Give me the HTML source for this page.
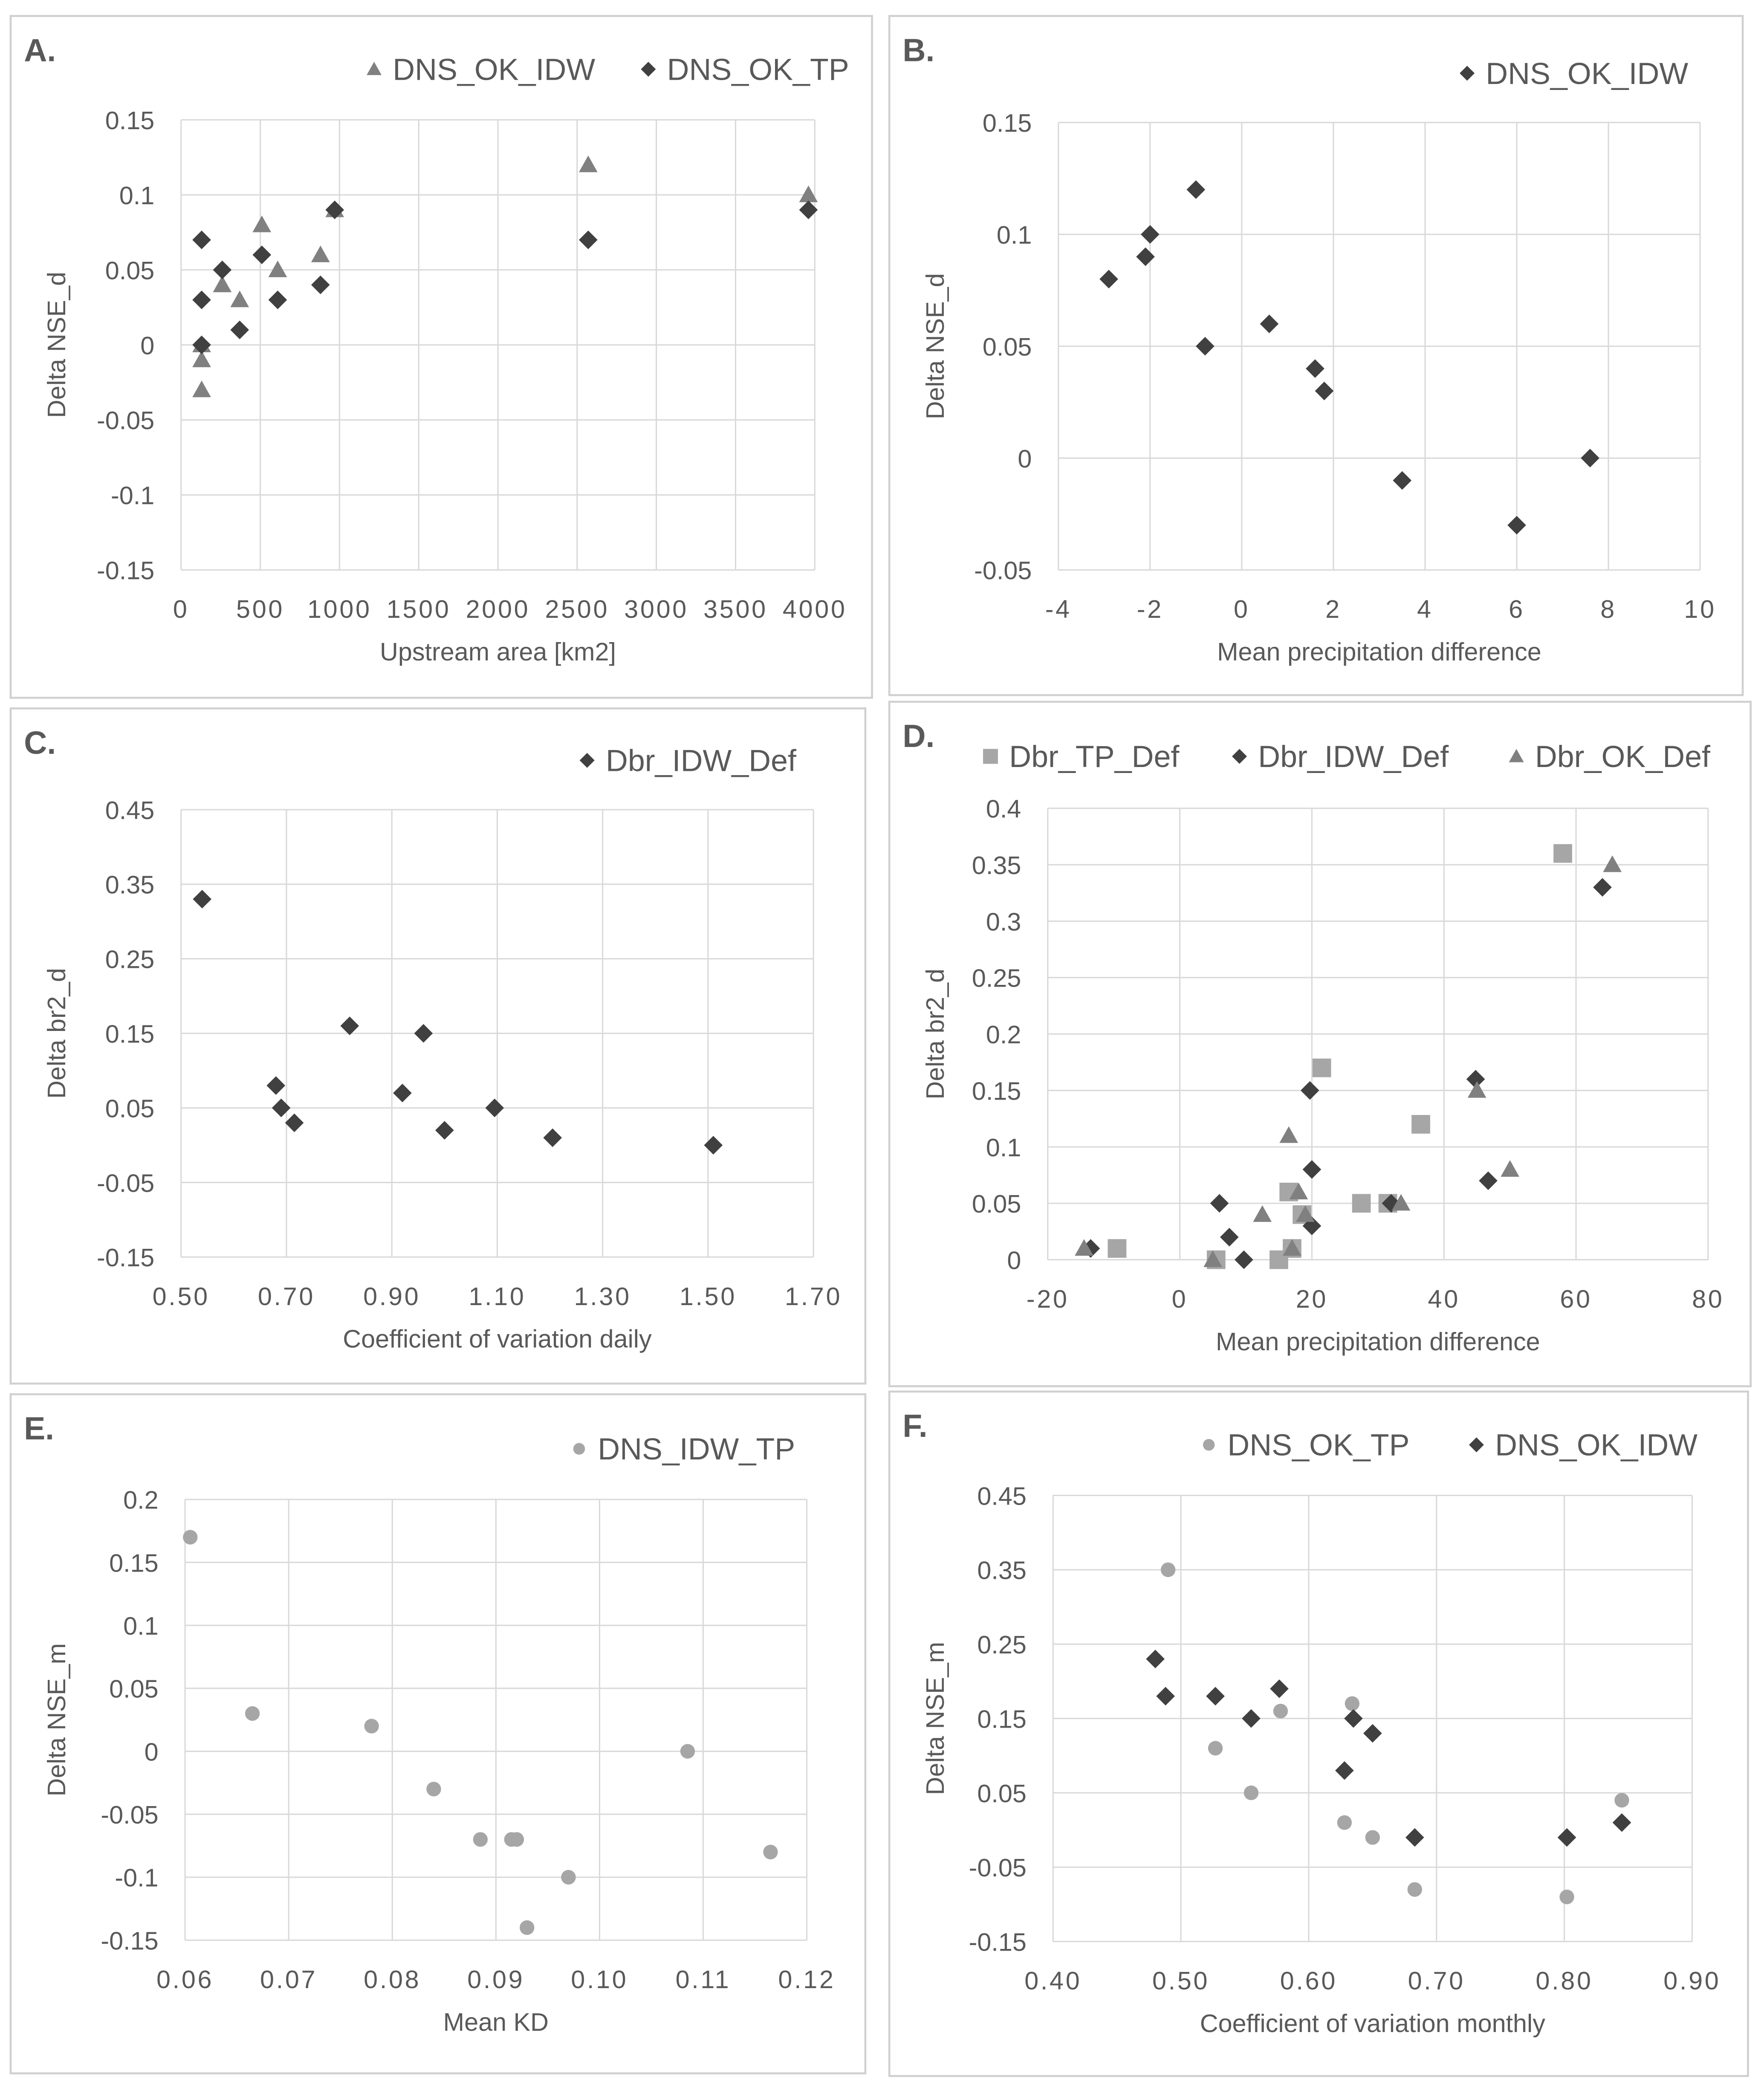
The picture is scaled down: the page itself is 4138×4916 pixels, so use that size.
<!DOCTYPE html>
<html><head><meta charset="utf-8"><style>
html,body{margin:0;padding:0;background:#fff}
svg{display:block}
text{font-family:"Liberation Sans",sans-serif;fill:#595959}
</style></head><body>
<svg id="fig" width="4138" height="4916" viewBox="0 0 1325 1574" preserveAspectRatio="none" xmlns="http://www.w3.org/2000/svg"></svg>
<script>
// Panel A data
const aXTicks=["0","500","1000","1500","2000","2500","3000","3500","4000"];
const aYTicks=["0.15","0.1","0.05","0","-0.05","-0.1","-0.15"];
const aIdwX=[130,130,130,260,370,510,610,880,970,2570,3960];
const aIdwY=[-0.03,-0.01,0,0.04,0.03,0.08,0.05,0.06,0.09,0.12,0.10];
const aTpX=[130,130,130,260,370,510,610,880,970,2570,3960];
const aTpY=[0.07,0.03,0,0.05,0.01,0.06,0.03,0.04,0.09,0.07,0.09];
// Panel B
const bXTicks=["-4","-2","0","2","4","6","8","10"];
const bYTicks=["0.15","0.1","0.05","0","-0.05"];
const bX=[-2.9,-2.1,-2.0,-1.0,-0.8,0.6,1.6,1.8,3.5,6.0,7.6];
const bY=[0.08,0.09,0.10,0.12,0.05,0.06,0.04,0.03,-0.01,-0.03,0];
// Panel C
const cXTicks=["0.50","0.70","0.90","1.10","1.30","1.50","1.70"];
const cYTicks=["0.45","0.35","0.25","0.15","0.05","-0.05","-0.15"];
const cX=[0.54,0.68,0.69,0.715,0.82,0.92,0.96,1.0,1.095,1.205,1.51];
const cY=[0.33,0.08,0.05,0.03,0.16,0.07,0.15,0.02,0.05,0.01,0];
// Panel D
const dXTicks=["-20","0","20","40","60","80"];
const dYTicks=["0.4","0.35","0.3","0.25","0.2","0.15","0.1","0.05","0"];
const dTpX=[-9.5,5.5,15,16.5,17,18.5,21.5,27.5,31.5,36.5,58];
const dTpY=[0.01,0,0,0.06,0.01,0.04,0.17,0.05,0.05,0.12,0.36];
const dIdwX=[-13.5,6,7.5,9.7,19.7,20,20,32,44.8,46.7,64];
const dIdwY=[0.01,0.05,0.02,0,0.15,0.08,0.03,0.05,0.16,0.07,0.33];
const dOkX=[-14.5,5,16.5,17,12.5,18,19,33.5,45,50,65.5];
const dOkY=[0.01,0,0.11,0.01,0.04,0.06,0.04,0.05,0.15,0.08,0.35];
// Panel E
const eXTicks=["0.06","0.07","0.08","0.09","0.10","0.11","0.12"];
const eYTicks=["0.2","0.15","0.1","0.05","0","-0.05","-0.1","-0.15"];
const eX=[0.0605,0.0665,0.078,0.084,0.0885,0.0915,0.092,0.093,0.097,0.1085,0.1165];
const eY=[0.17,0.03,0.02,-0.03,-0.07,-0.07,-0.07,-0.14,-0.10,0,-0.08];
// Panel F
const fXTicks=["0.40","0.50","0.60","0.70","0.80","0.90"];
const fYTicks=["0.45","0.35","0.25","0.15","0.05","-0.05","-0.15"];
const fTpX=[0.49,0.527,0.555,0.578,0.628,0.634,0.65,0.683,0.802,0.845];
const fTpY=[0.35,0.11,0.05,0.16,0.01,0.17,-0.01,-0.08,-0.09,0.04];
const fIdwX=[0.48,0.488,0.527,0.555,0.577,0.628,0.635,0.65,0.683,0.802,0.845];
const fIdwY=[0.23,0.18,0.18,0.15,0.19,0.08,0.15,0.13,-0.01,-0.01,0.01];

const NS="http://www.w3.org/2000/svg";
const svg=document.getElementById('fig');
function el(tag,attrs,parent,txt){const e=document.createElementNS(NS,tag);for(const k in attrs)e.setAttribute(k,attrs[k]);if(txt!==undefined)e.textContent=txt;(parent||svg).appendChild(e);return e;}
const DARK="#404040",MID="#808080",LIGHT="#a6a6a6";
function marker(g,shape,x,y,color){
  let m;
  if(shape==='diamond'){m=el('polygon',{points:`${x},${y-7} ${x+7},${y} ${x},${y+7} ${x-7},${y}`,fill:color},g);}
  else if(shape==='triangle'){m=el('polygon',{points:`${x},${y-7} ${x+7},${y+5.5} ${x-7},${y+5.5}`,fill:color},g);}
  else if(shape==='square'){m=el('rect',{x:x-7,y:y-7,width:14,height:14,fill:color},g);}
  else {m=el('circle',{cx:x,cy:y,r:5.5,fill:color},g);}
  return m;
}
function panel(p){
  const g=el('g',{});
  
  
  const box=el('rect',{x:p.box[0],y:p.box[1],width:p.box[2]-p.box[0],height:p.box[3]-p.box[1],fill:'#fff',stroke:'#d0d0d0','stroke-width':1.5},g);
  
  const lab=el('text',{x:p.box[0]+10,y:p.box[1]+34,'font-size':24,'font-weight':'bold'},g,p.id.toUpperCase()+'.');
  
  const [x0,x1,y0,y1]=p.plot;
  const xmin=parseFloat(p.xt[0]),xmax=parseFloat(p.xt[p.xt.length-1]);
  const ytv=p.yt.map(parseFloat);const ymax=Math.max(...ytv),ymin=Math.min(...ytv);
  const sx=v=>x0+(v-xmin)/(xmax-xmin)*(x1-x0);
  const sy=v=>y1-(v-ymin)/(ymax-ymin)*(y1-y0);
  p.xt.forEach(t=>{const v=parseFloat(t);const l=el('line',{x1:sx(v),x2:sx(v),y1:y0,y2:y1,stroke:'#d9d9d9','stroke-width':1},g);
    
    const tx=el('text',{x:sx(v),y:y1+36,'font-size':19,'text-anchor':'middle','letter-spacing':1.5,fill:'#505050'},g,t);
    });
  p.yt.forEach(t=>{const v=parseFloat(t);const l=el('line',{x1:x0,x2:x1,y1:sy(v),y2:sy(v),stroke:'#d9d9d9','stroke-width':1},g);
    
    const tx=el('text',{x:x0-20,y:sy(v)+7,'font-size':19,'text-anchor':'end',fill:'#505050'},g,t);
    });
  const xt=el('text',{x:(x0+x1)/2,y:y1+68,'font-size':19,'text-anchor':'middle'},g,p.xtitle);
  
  const yx=p.box[0]+41, yy=(y0+y1)/2;
  const yt=el('text',{x:yx,y:yy,'font-size':19,'text-anchor':'middle',transform:`rotate(-90 ${yx} ${yy})`},g,p.ytitle);
  
  p.series.forEach(s=>{
    const sg=el('g',{},g);
    
    
    s.x.forEach((xv,i)=>{const m=marker(sg,s.shape,sx(xv),sy(s.y[i]),s.color);
      
      });
    const lg=el('g',{},g);
    
    
    const lm=marker(lg,s.shape,s.lx,s.ly,s.color);
    lm.setAttribute('transform',`translate(${s.lx} ${s.ly}) scale(0.8) translate(${-s.lx} ${-s.ly})`);
    el('text',{x:s.lx+14,y:s.ly+8,'font-size':23},lg,s.name);
  });
}
panel({id:'a',box:[8,12,655,524],plot:[136,612,90,428],xt:aXTicks,yt:aYTicks,xtitle:'Upstream area [km2]',ytitle:'Delta NSE_d',
  series:[{name:'DNS_OK_IDW',shape:'triangle',color:MID,x:aIdwX,y:aIdwY,lx:281,ly:52},
          {name:'DNS_OK_TP',shape:'diamond',color:DARK,x:aTpX,y:aTpY,lx:487,ly:52}]});
panel({id:'b',box:[668,12,1309,522],plot:[795,1277,92,428],xt:bXTicks,yt:bYTicks,xtitle:'Mean precipitation difference',ytitle:'Delta NSE_d',
  series:[{name:'DNS_OK_IDW',shape:'diamond',color:DARK,x:bX,y:bY,lx:1102,ly:55}]});
panel({id:'c',box:[8,532,650,1039],plot:[136,611,608,944],xt:cXTicks,yt:cYTicks,xtitle:'Coefficient of variation daily',ytitle:'Delta br2_d',
  series:[{name:'Dbr_IDW_Def',shape:'diamond',color:DARK,x:cX,y:cY,lx:441,ly:571}]});
panel({id:'d',box:[668,527,1315,1041],plot:[787,1283,607,946],xt:dXTicks,yt:dYTicks,xtitle:'Mean precipitation difference',ytitle:'Delta br2_d',
  series:[{name:'Dbr_TP_Def',shape:'square',color:LIGHT,x:dTpX,y:dTpY,lx:744,ly:568},
          {name:'Dbr_IDW_Def',shape:'diamond',color:DARK,x:dIdwX,y:dIdwY,lx:931,ly:568},
          {name:'Dbr_OK_Def',shape:'triangle',color:MID,x:dOkX,y:dOkY,lx:1139,ly:568}]});
panel({id:'e',box:[8,1047,650,1557],plot:[139,606,1126,1457],xt:eXTicks,yt:eYTicks,xtitle:'Mean KD',ytitle:'Delta NSE_m',
  series:[{name:'DNS_IDW_TP',shape:'circle',color:LIGHT,x:eX,y:eY,lx:435,ly:1088}]});
panel({id:'f',box:[668,1045,1313,1559],plot:[791,1271,1123,1458],xt:fXTicks,yt:fYTicks,xtitle:'Coefficient of variation monthly',ytitle:'Delta NSE_m',
  series:[{name:'DNS_OK_TP',shape:'circle',color:LIGHT,x:fTpX,y:fTpY,lx:908,ly:1085},
          {name:'DNS_OK_IDW',shape:'diamond',color:DARK,x:fIdwX,y:fIdwY,lx:1109,ly:1085}]});
</script>
</body></html>
